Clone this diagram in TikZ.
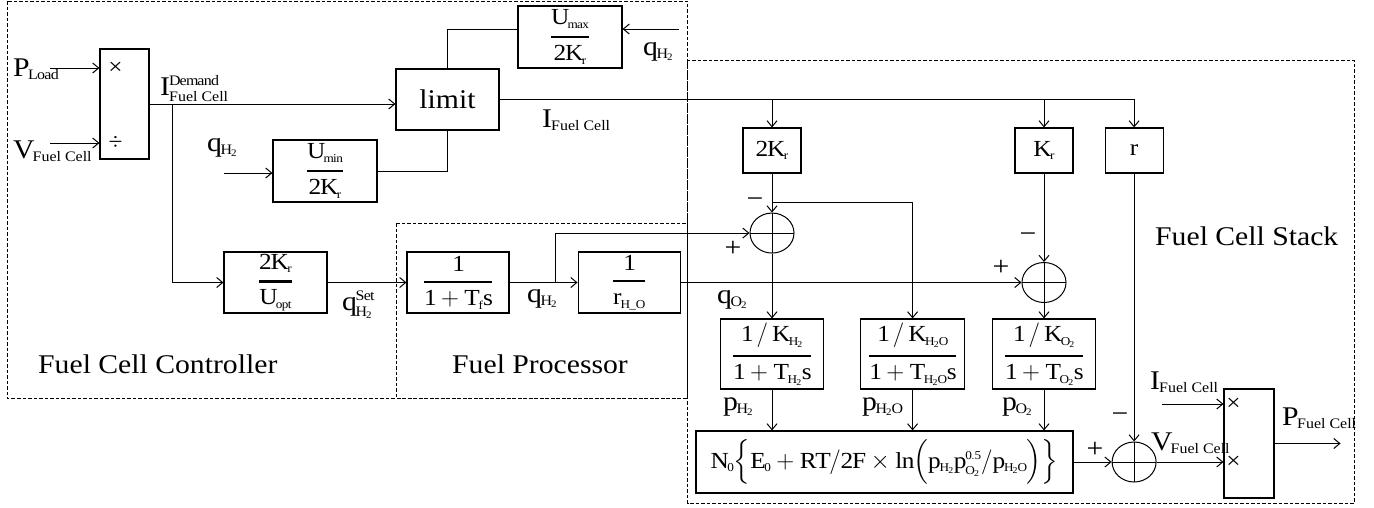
\documentclass[tikz,border=0pt]{standalone}
\usepackage{amsmath}
\usepackage{fontspec}
\setmainfont{Liberation Serif}[FakeStretch=1.1]
\setmathrm{Liberation Serif}[FakeStretch=1.1]
\usetikzlibrary{arrows.meta, positioning, calc, shapes.geometric}
\DeclareMathSizes{27}{27}{14.5}{10}
\DeclareMathSizes{23}{23}{12}{9}
\newcommand{\fcl}{\text{Fuel Cell}}
\newcommand{\blkfrac}[2]{\genfrac{}{}{2.4pt}{0}{\mathrm{#1}}{\mathrm{#2}}}
\tikzset{
  block/.style  = {draw, rectangle, line width=1.1pt, inner sep=0pt,
                   font=\fontsize{23}{26}\selectfont},
  sumj/.style   = {draw, ellipse, line width=1pt, inner sep=0pt,
                   minimum width=44pt, minimum height=40pt,
                   path picture={\draw[line width=1pt]
                     (path picture bounding box.west) -- (path picture bounding box.east)
                     (path picture bounding box.north) -- (path picture bounding box.south);}},
  arr/.style    = {-{Straight Barb[length=6pt, width=10pt]}, line width=1pt},
  wire/.style   = {line width=1pt},
  lbl/.style    = {font=\fontsize{27}{30}\selectfont, inner sep=0pt, anchor=base west},
  sgn/.style    = {font=\fontsize{27}{30}\selectfont, inner sep=0pt},
  opsym/.style  = {font=\fontsize{23}{26}\selectfont, inner sep=0pt},
  region/.style = {line width=0.9pt, dash pattern=on 3.5pt off 2pt},
  node distance = 30pt and 30pt
}

\begin{document}
\begin{tikzpicture}[x=1pt, y=-1pt]
  \useasboundingbox (0,0) rectangle (1374,507);

  % ── Dashed sub-system frames ──────────────────────────────────────────────
  \draw[region] (7,1)       rectangle (687.5,398);
  \draw[region] (396,223)   rectangle (687.5,398);
  \draw[region] (687.5,60)  rectangle (1354,503);

  % ── Fuel cell controller ──────────────────────────────────────────────────
  \node[block, minimum width=49pt, minimum height=110pt]  (MulDiv) at (124.5,104) {};
  \node[block, minimum width=103pt, minimum height=61pt,
        font=\fontsize{27}{30}\selectfont]                (Limit)  at (447.5,99.5) {limit};
  \node[block, minimum width=104pt, minimum height=62pt]  (Umax)   at (570,37)
        {$\blkfrac{U_{max}}{2K_r}$};
  \node[block, minimum width=104pt, minimum height=62pt]  (Umin)   at (325,171)
        {$\blkfrac{U_{min}}{2K_r}$};
  \node[block, minimum width=103pt, minimum height=61pt]  (Uopt)   at (275.5,282.5)
        {$\blkfrac{2K_r}{U_{opt}}$};

  % ── Fuel processor ────────────────────────────────────────────────────────
  \node[block, minimum width=102pt, minimum height=61pt]  (Tf)     at (458,282.5)
        {$\blkfrac{1}{1+T_fs}$};
  \node[block, minimum width=102pt, minimum height=61pt, right=68pt of Tf] (RHO)
        {$\blkfrac{1}{r_{H\_O}}$};

  % ── Fuel cell stack ───────────────────────────────────────────────────────
  \node[block, minimum width=58pt, minimum height=45pt]   (TwoKr)  at (772,150.5) {$\mathrm{2K_r}$};
  \node[block, minimum width=58pt, minimum height=45pt]   (Kr)     at (1044,150.5) {$\mathrm{K_r}$};
  \node[block, minimum width=58pt, minimum height=45pt, right=31pt of Kr] (Rr) {r};
  \node[sumj, below=39pt of TwoKr]                        (SumA)   {};
  \node[sumj]                                             (SumB)   at (Kr |- RHO) {};
  \node[block, minimum width=103pt, minimum height=70pt]  (KH2)    at (772,354)
        {$\blkfrac{1\,/\,K_{H_2}}{1+T_{H_2}s}$};
  \node[block, minimum width=104pt, minimum height=70pt, right=36pt of KH2] (KH2O)
        {$\blkfrac{1\,/\,K_{H_2O}}{1+T_{H_2O}s}$};
  \node[block, minimum width=103pt, minimum height=70pt]  (KO2)    at (SumB |- KH2)
        {$\blkfrac{1\,/\,K_{O_2}}{1+T_{O_2}s}$};
  \node[block, minimum width=377pt, minimum height=62pt]  (Nernst) at (884.5,462)
        {$\mathrm{N_0\Big\{E_0+RT/2F\times ln\Big(p_{H_2}p_{O_2}^{0.5}/p_{H_2O}\Big)\Big\}}$};
  \node[sumj]                                             (SumV)   at (Rr |- Nernst) {};
  \node[block, minimum width=50pt, minimum height=109pt]  (MulP)   at (1249,443.5) {};

  % ── I/O coordinates ───────────────────────────────────────────────────────
  \coordinate (PLoadIn) at (50,68);
  \coordinate (VfcIn)   at (50,143);
  \coordinate (QmaxIn)  at (679,29);
  \coordinate (QminIn)  at (224,173);
  \coordinate (IfcIn)   at (1162,404);
  \coordinate (PfcOut)  at ($(MulP.east)+(66,0)$);

  % ── Connections ───────────────────────────────────────────────────────────

  % load power and voltage -> demanded current
  \draw[arr] (PLoadIn) -- (PLoadIn -| MulDiv.west);
  \draw[arr] (VfcIn)   -- (VfcIn -| MulDiv.west);
  \node[opsym] (MulSym) at ($(PLoadIn -| MulDiv.west)+(16,0)$) {×};
  \node[opsym] (DivSym) at ($(VfcIn -| MulDiv.west)+(16,0)$)   {÷};
  \draw[arr] (MulDiv.east) -- (MulDiv.east -| Limit.west);
  \coordinate (DemBr) at ($(MulDiv.east)+(23,0)$);
  \draw[arr] (DemBr) |- (Uopt.west);

  % upper / lower bounds of the limiter
  \draw[arr]  (QmaxIn) -- (QmaxIn -| Umax.east);
  \draw[wire] (QmaxIn -| Umax.west) -| (Limit.north);
  \draw[arr]  (QminIn) -- (QminIn -| Umin.west);
  \draw[wire] (Umin.east) -| (Limit.south);

  % limited current to the stack gains
  \coordinate (IfcEnd) at (Limit.east -| Rr.north);
  \draw[arr] (Limit.east) -- (IfcEnd) -- (Rr.north);
  \draw[arr] (Limit.east -| TwoKr.north) -- (TwoKr.north);
  \draw[arr] (Limit.east -| Kr.north)    -- (Kr.north);

  % hydrogen set point through the fuel processor
  \draw[arr] (Uopt) -- (Tf);
  \draw[arr] (Tf)   -- (RHO);
  \coordinate (QBr) at ($(Tf.east)+(46,0)$);
  \draw[arr] (QBr) |- (SumA.west);
  \draw[arr] (RHO) -- (SumB);

  % partial pressures
  \draw[arr] (TwoKr) -- (SumA);
  \coordinate (KrBr) at ($(TwoKr.south)+(0,29)$);
  \draw[arr] (KrBr) -| (KH2O.north);
  \draw[arr] (Kr)   -- (SumB);
  \draw[arr] (SumA) -- (KH2);
  \draw[arr] (SumB) -- (KO2);
  \draw[arr] (KH2)  -- (KH2 |- Nernst.north);
  \draw[arr] (KH2O) -- (KH2O |- Nernst.north);
  \draw[arr] (KO2)  -- (KO2 |- Nernst.north);

  % stack voltage and power
  \draw[arr] (Nernst) -- (SumV);
  \draw[arr] (Rr)     -- (SumV);
  \draw[arr] (SumV)   -- (SumV -| MulP.west);
  \draw[arr] (IfcIn)  -- (IfcIn -| MulP.west);
  \node[opsym] (MulSymA) at ($(IfcIn -| MulP.west)+(10,0)$) {×};
  \node[opsym] (MulSymB) at ($(SumV -| MulP.west)+(10,0)$)  {×};
  \draw[arr] (MulP) -- (PfcOut);

  % ── Signal labels ─────────────────────────────────────────────────────────
  \node[lbl] (PLoadLbl) at (13,76)    {$\mathrm{P_{Load}}$};
  \node[lbl] (VfcInLbl) at (13,158)   {$\mathrm{V_{\fcl}}$};
  \node[lbl] (IdemLbl)  at (160,95)   {$\mathrm{I^{Demand}_{\fcl}}$};
  \node[lbl] (QminLbl)  at (207,151)  {$\mathrm{q_{H_2}}$};
  \node[lbl] (QmaxLbl)  at (643,55)   {$\mathrm{q_{H_2}}$};
  \node[lbl] (IfcLbl)   at (542,127)  {$\mathrm{I_{\fcl}}$};
  \node[lbl] (QsetLbl)  at (342,310)  {$\mathrm{q^{Set}_{H_2}}$};
  \node[lbl] (QfpLbl)   at (527,302)  {$\mathrm{q_{H_2}}$};
  \node[lbl] (QO2Lbl)   at (717,303)  {$\mathrm{q_{O_2}}$};
  \node[lbl] (PH2Lbl)   at (723,410)  {$\mathrm{p_{H_2}}$};
  \node[lbl] (PH2OLbl)  at (862,410)  {$\mathrm{p_{H_2O}}$};
  \node[lbl] (PO2Lbl)   at (1002,410) {$\mathrm{p_{O_2}}$};
  \node[lbl] (IfcInLbl) at (1150,389) {$\mathrm{I_{\fcl}}$};
  \node[lbl] (VfcLbl)   at (1151,450) {$\mathrm{V_{\fcl}}$};
  \node[lbl] (PfcLbl)   at (1282,425) {$\mathrm{P_{\fcl}}$};

  % summing-junction signs
  \node[sgn] (SgnAm) at (755,203)  {−};
  \node[sgn] (SgnAp) at (733,249)  {+};
  \node[sgn] (SgnBm) at (1028,238) {−};
  \node[sgn] (SgnBp) at (1001,268) {+};
  \node[sgn] (SgnVp) at (1095,450) {+};
  \node[sgn] (SgnVm) at (1120,418) {−};

  % ── Sub-system titles ─────────────────────────────────────────────────────
  \node[lbl] (CtrlTitle)  at (38,373)   {Fuel Cell Controller};
  \node[lbl] (ProcTitle)  at (452,373)  {Fuel Processor};
  \node[lbl] (StackTitle) at (1155,245) {Fuel Cell Stack};

\end{tikzpicture}
\end{document}
